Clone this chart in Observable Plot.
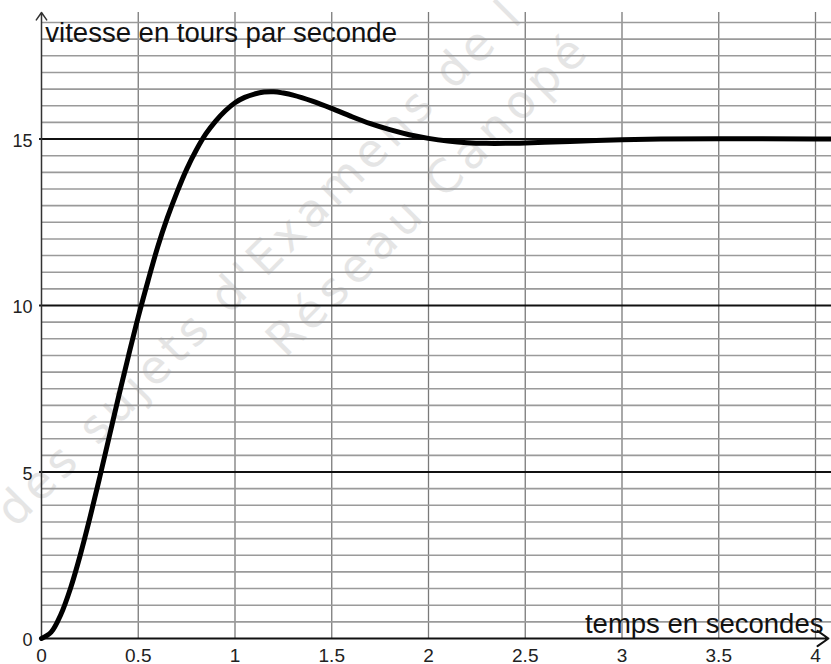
<!DOCTYPE html>
<html>
<head>
<meta charset="utf-8">
<script src="https://cdn.jsdelivr.net/npm/d3@7"></script>
<script src="https://cdn.jsdelivr.net/npm/@observablehq/plot@0.6"></script>
<style>
  html, body { margin: 0; padding: 0; background: #fff; }
  #chart svg { display: block; }
</style>
</head>
<body>
<div id="chart"></div>
<script>
// ---- Data ----
const times  = [0, 0.05, 0.1, 0.15, 0.2, 0.25, 0.3, 0.35, 0.4, 0.45, 0.5, 0.55, 0.6, 0.65, 0.7, 0.75, 0.8, 0.85, 0.9, 0.95,
                1.0, 1.05, 1.1, 1.15, 1.2, 1.25, 1.3, 1.4, 1.5, 1.6, 1.7, 1.8, 1.9, 2.0, 2.1, 2.2, 2.3, 2.4, 2.5, 2.6,
                2.8, 3.0, 3.2, 3.5, 4.0, 4.08];
const speeds = [0, 0.19, 0.72, 1.51, 2.5, 3.62, 4.82, 6.06, 7.3, 8.5, 9.66, 10.73, 11.75, 12.63, 13.4, 14.09, 14.67, 15.16, 15.54, 15.85,
                16.09, 16.25, 16.35, 16.41, 16.42, 16.38, 16.32, 16.14, 15.92, 15.68, 15.46, 15.28, 15.13, 15.02, 14.94, 14.89, 14.87, 14.87, 14.88, 14.9,
                14.94, 14.98, 15.0, 15.01, 15.0, 15.0];

const xTicks = [0, 0.5, 1, 1.5, 2, 2.5, 3, 3.5, 4];
const xTickLabels = ["0", "0.5", "1", "1.5", "2", "2.5", "3", "3.5", "4"];
const yTicks = [0, 5, 10, 15];
const yTickLabels = ["0", "5", "10", "15"];
const xGrid = [0.5, 1, 1.5, 2, 2.5, 3, 3.5, 4];
const yMajorGrid = [5, 10, 15];
const yMinorGrid = d3.range(0.5, 18.51, 0.5).filter(v => v % 5 !== 0);

const yTitle = "vitesse en tours par seconde";
const xTitle = "temps en secondes";
const watermarkA1 = "des sujets d'";
const watermarkA2 = "Examens de l'";
const watermarkB = "Réseau Canopé";

// ---- Chart ----
const xMax = 4, xEdge = 4.083, xArrow = 4.067, yMax = 18.8;
const curve = times.map((t, i) => ({t, v: speeds[i]}));

const wm = {rotate: -45, lineAnchor: "bottom", fontSize: 46, fill: "#e5e5e5", fontFamily: "DejaVu Sans"};

const plot = Plot.plot({
  width: 831,
  height: 664,
  marginLeft: 41,
  marginRight: 16,
  marginTop: 12,
  marginBottom: 26,
  x: {domain: [0, xMax], axis: null},
  y: {domain: [0, yMax], axis: null},
  style: {fontFamily: "'Liberation Sans', Arial, sans-serif", background: "#fff", color: "#222", overflow: "visible"},
  marks: [
    // watermark
    Plot.text([watermarkA1], {...wm, x: 1.157, y: 10.81, text: d => d, textAnchor: "end"}),
    Plot.text([watermarkA2], {...wm, x: 1.157, y: 10.81, text: d => d, textAnchor: "start"}),
    Plot.text([watermarkB], {...wm, x: 1.26, y: 8.4, text: d => d, textAnchor: "start"}),
    // grid
    Plot.ruleX(xGrid, {y1: 0, y2: yMax, stroke: "#7a7a7a", strokeWidth: 1.3}),
    Plot.ruleY(yMinorGrid, {x1: 0, x2: xEdge, stroke: "#9a9a9a", strokeWidth: 1.6}),
    Plot.ruleY(yMajorGrid, {x1: -0.01, x2: xEdge, stroke: "#111", strokeWidth: 2}),
    // axes with arrows
    Plot.arrow([{x1: 0, y1: 0, x2: 0, y2: yMax}], {x1: "x1", y1: "y1", x2: "x2", y2: "y2", stroke: "#333",
      strokeWidth: 1.5, headLength: 9, headAngle: 70}),
    Plot.arrow([{x1: 0, y1: 0, x2: xArrow, y2: 0}], {x1: "x1", y1: "y1", x2: "x2", y2: "y2", stroke: "#111",
      strokeWidth: 2, headLength: 10, headAngle: 70}),
    // curve
    Plot.line(curve, {x: "t", y: "v", stroke: "#000", strokeWidth: 5, curve: "catmull-rom"}),
    // tick labels
    Plot.text(xTicks, {x: d => d, y: 0, text: (d, i) => xTickLabels[i], dy: 17, fontSize: 19, fill: "#222"}),
    Plot.text(yTicks, {x: 0, y: d => d, text: (d, i) => yTickLabels[i], dx: -9, dy: 2, textAnchor: "end", fontSize: 18, fill: "#222"}),
    // axis titles
    Plot.text([yTitle], {x: 0.02, y: 17.9, text: d => d, textAnchor: "start", lineAnchor: "bottom", fontSize: 27.5, fill: "#111"}),
    Plot.text([xTitle], {x: 4.041, y: 0.18, text: d => d, textAnchor: "end", lineAnchor: "bottom", fontSize: 27.5, fill: "#111"})
  ]
});

const wmSpacing = new Map([[watermarkA1, 5], [watermarkA2, 5], [watermarkB, 6]]);
d3.select(plot).selectAll("text")
  .filter(function() { return wmSpacing.has(this.textContent); })
  .each(function() {
    const s = wmSpacing.get(this.textContent);
    d3.select(this).attr("letter-spacing", s).style("letter-spacing", s + "px");
  });
document.getElementById("chart").appendChild(plot);
</script>
</body>
</html>
